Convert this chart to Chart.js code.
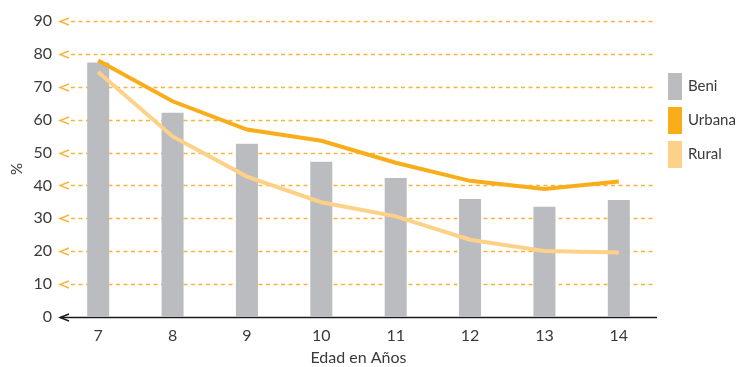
<!DOCTYPE html>
<html>
<head>
<meta charset="utf-8">
<script src="https://cdn.jsdelivr.net/npm/chart.js@4/dist/chart.umd.min.js"></script>
<style>
  html, body { margin: 0; padding: 0; background: #ffffff; }
  #wrap { width: 741px; height: 367px; }
</style>
</head>
<body>
<div id="wrap"><canvas id="c" width="741" height="367"></canvas></div>
<script>
// Edad en años (eje X)
const edades = ['7', '8', '9', '10', '11', '12', '13', '14'];
// Porcentajes por serie
const beni = [77.4, 62.1, 52.7, 47.2, 42.3, 35.9, 33.5, 35.6];
const urbana = [78.0, 65.6, 57.0, 53.6, 46.9, 41.4, 38.9, 41.2];
const rural = [74.5, 54.9, 42.7, 34.9, 30.6, 23.5, 20.1, 19.6];
// Marcas del eje Y
const yTicks = [0, 10, 20, 30, 40, 50, 60, 70, 80, 90];

const FONT = "Lato, 'DejaVu Sans', sans-serif";
const TEXT = '#3a3a3a';
const GRID = '#f9b43a';

// Líneas de guía punteadas con flecha "<" a la izquierda; la línea 0 es negra y continua
const arrowGrid = {
  id: 'arrowGrid',
  beforeDatasetsDraw(chart) {
    const { ctx, chartArea, scales } = chart;
    const y = scales.y;
    ctx.save();
    yTicks.forEach(v => {
      const py = Math.round(y.getPixelForValue(v)) + 0.5;
      const zero = v === 0;
      ctx.strokeStyle = zero ? '#1a1a1a' : GRID;
      ctx.lineWidth = 1.4;
      ctx.setLineDash([]);
      ctx.beginPath();
      ctx.moveTo(chartArea.left + 8, py - 3.5);
      ctx.lineTo(chartArea.left - 1, py);
      ctx.lineTo(chartArea.left + 8, py + 3.5);
      ctx.stroke();
      ctx.beginPath();
      if (zero) {
        ctx.lineWidth = 1.3;
        ctx.moveTo(chartArea.left - 1, py);
        ctx.lineTo(chartArea.right + 1, py);
      } else {
        ctx.lineWidth = 1.5;
        ctx.setLineDash([4, 3.5]);
        ctx.moveTo(chartArea.left + 10, py);
        ctx.lineTo(chartArea.right, py);
      }
      ctx.stroke();
    });
    ctx.restore();
  }
};

// Leyenda con bloques de color a la derecha
const sideLegend = {
  id: 'sideLegend',
  afterDraw(chart) {
    const { ctx } = chart;
    ctx.save();
    ctx.font = '15px ' + FONT;
    ctx.textBaseline = 'middle';
    ctx.textAlign = 'left';
    chart.data.datasets.forEach((ds, i) => {
      const top = 73 + i * 34;
      ctx.fillStyle = ds.legendColor;
      ctx.fillRect(668, top, 14, 27);
      ctx.fillStyle = TEXT;
      ctx.fillText(ds.label, 688, top + 13.5);
    });
    ctx.restore();
  }
};

new Chart(document.getElementById('c'), {
  data: {
    labels: edades,
    datasets: [
      {
        type: 'bar', label: 'Beni', data: beni,
        backgroundColor: '#bbbcc0', legendColor: '#bbbcc0',
        barPercentage: 0.296, categoryPercentage: 1, order: 3
      },
      {
        type: 'line', label: 'Urbana', data: urbana,
        borderColor: '#f9ad1a', legendColor: '#f9ad1a',
        borderWidth: 4, pointRadius: 0, tension: 0, order: 1
      },
      {
        type: 'line', label: 'Rural', data: rural,
        borderColor: '#fed189', legendColor: '#fed189',
        borderWidth: 4, pointRadius: 0, tension: 0, order: 2
      }
    ]
  },
  options: {
    responsive: false,
    animation: false,
    layout: { padding: { top: 21, right: 85, bottom: 0, left: 0 } },
    plugins: { legend: { display: false }, tooltip: { enabled: false } },
    scales: {
      x: {
        grid: { display: false, drawTicks: false },
        border: { display: false },
        ticks: { color: TEXT, font: { family: FONT, size: 16 }, padding: 9, maxRotation: 0 },
        title: { display: true, text: 'Edad en Años', color: TEXT, font: { family: FONT, size: 16 }, padding: 0 },
        afterFit(s) { s.height = 50; }
      },
      y: {
        min: 0, max: 90,
        afterBuildTicks(s) { s.ticks = yTicks.map(v => ({ value: v })); },
        grid: { display: false, drawTicks: false },
        border: { display: false },
        ticks: { color: TEXT, font: { family: FONT, size: 16 }, padding: 9 },
        title: { display: true, text: '%', color: TEXT, font: { family: FONT, size: 15 }, padding: { top: 8, bottom: 0 } },
        afterFit(s) { s.width = 61; }
      }
    }
  },
  plugins: [arrowGrid, sideLegend]
});
</script>
</body>
</html>
